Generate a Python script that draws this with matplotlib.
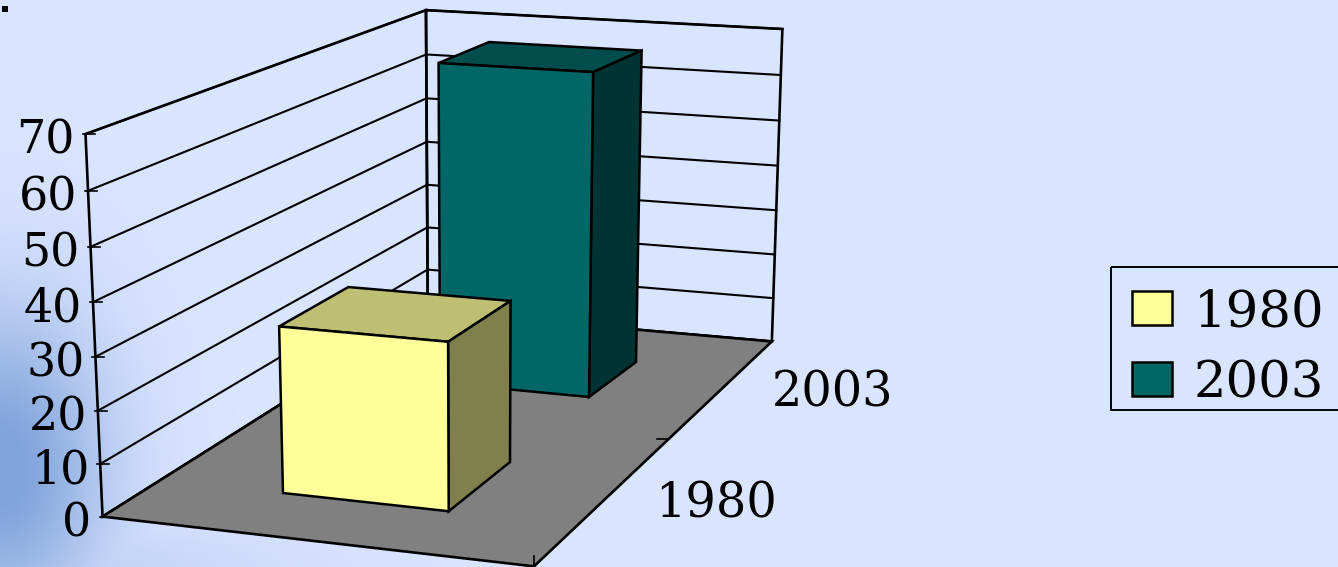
import numpy as np
import matplotlib
matplotlib.use("Agg")
import matplotlib.pyplot as plt
from matplotlib.patches import Polygon, Patch, Rectangle

series_names = ["1980", "2003"]
series_values = [32, 68]
value_ticks = [0, 10, 20, 30, 40, 50, 60, 70]
category_labels = ["1980", "2003"]

W, H = 1338, 567
FONT = "DejaVu Serif"
fig = plt.figure(figsize=(W / 100, H / 100), dpi=100)
ax = fig.add_axes([0, 0, 1, 1])
ax.set_xlim(0, W)
ax.set_ylim(H, 0)
ax.axis("off")

# background
yy, xx = np.mgrid[0:H, 0:W]
base = np.array([217, 228, 255], float)
dark = np.array([128, 163, 219], float)
t = np.exp(-((xx / 105.0) ** 2) - ((yy - 470) / 160.0) ** 2 * (yy < 470) - ((yy - 470) / 150.0) ** 2 * (yy >= 470))
band = 0.3 * np.exp(-((xx / 260.0) ** 2) - ((yy - 567) / 45.0) ** 2)
t = np.clip(np.maximum(t * 1.05, band) - 0.006, 0, 1)[..., None]
bg = (base * (1 - t) + dark * t) / 255
ax.imshow(bg, extent=(0, W, H, 0), aspect="auto", zorder=0)

# projective scale: (x, y, value) -> pixel
anchors = [
    ((0, 0, 0), (103, 517)), ((0, 0, 70), (86, 133)),
    ((0, 1, 0), (428, 312)), ((0, 1, 70), (425, 10)),
    ((1, 1, 0), (772, 340)), ((1, 1, 70), (783, 30)),
    ((1, 0, 0), (533, 567)),
]
A = []
b = []
for (x, y, z), (u, v) in anchors:
    z = z / 70
    A.append([x, y, z, 1, 0, 0, 0, 0, -u * x, -u * y, -u * z])
    b.append(u)
    A.append([0, 0, 0, 0, x, y, z, 1, -v * x, -v * y, -v * z])
    b.append(v)
m = list(np.linalg.lstsq(np.array(A, float), np.array(b, float), rcond=None)[0])
Mat = np.array([m[0:3] + [m[3]], m[4:7] + [m[7]], m[8:11] + [1.0]])


def P(x, y, z):
    h = Mat @ np.array([x, y, z / 70, 1.0])
    return (h[0] / h[2], h[1] / h[2])


def floor_inv(u, v):
    G = Mat[:, [0, 1, 3]]
    h = np.linalg.solve(G, np.array([u, v, 1.0]))
    return h[0] / h[2], h[1] / h[2]


LW = 1.9
GRID = 1.5
# walls
ax.add_patch(Polygon([P(0, 0, 0), P(0, 1, 0), P(0, 1, 70), P(0, 0, 70)], fc="none", ec="k", lw=LW, zorder=1))
ax.add_patch(Polygon([P(0, 1, 0), P(1, 1, 0), P(1, 1, 70), P(0, 1, 70)], fc="none", ec="k", lw=LW, zorder=1))
for v in value_ticks:
    pts = [P(0, 0, v), P(0, 1, v), P(1, 1, v)]
    ax.plot(*zip(*pts), color="k", lw=GRID, zorder=1, solid_joinstyle="miter")
    px, py = P(0, 0, v)
    ax.plot([px - 3, px + 9], [py, py], color="k", lw=1.2, zorder=1)
    ax.text(px - 11, py + 7, str(v), ha="right", va="center", fontsize=33,
            family=FONT, color="k", zorder=5)

# floor
ax.add_patch(Polygon([P(0, 0, 0), P(1, 0, 0), P(1, 1, 0), P(0, 1, 0)], fc="#808080", ec="k", lw=LW, zorder=2))
# category ticks
ex, ey = P(1, 0, 0)
ax.plot([ex, ex], [ey, ey - 10], color="k", lw=1.2, zorder=3)
ex, ey = P(1, 0.5, 0)
ax.plot([ex - 12, ex], [ey, ey], color="k", lw=1.2, zorder=3)

# bar footprints from floor pixels: front-left x, front y, then right edge near and far
faces = [("#FFFF99", "#BFBF73", "#80804D"), ("#006666", "#004D4D", "#003333")]
xa, ya = floor_inv(283, 493)
xb, yb = floor_inv(510, 462)
xc, yc = floor_inv(589, 397)
xd, yd = floor_inv(636, 362)
xe, _ = floor_inv(449, 511)
footprints = [(xa, xe, xb, ya, yb), (xa, xc, xd, yc, yd)]
for i in [1, 0]:
    x0, x1f, x1b, y0, y1 = footprints[i]
    h = series_values[i]
    front, top, side = faces[i]
    z = 3 + (1 - i)
    kw = dict(ec="k", lw=1.8, zorder=z, joinstyle="miter")
    ax.add_patch(Polygon([P(x0, y0, h), P(x0, y1, h), P(x1b, y1, h), P(x1f, y0, h)], fc=top, **kw))
    ax.add_patch(Polygon([P(x1f, y0, 0), P(x1b, y1, 0), P(x1b, y1, h), P(x1f, y0, h)], fc=side, **kw))
    ax.add_patch(Polygon([P(x0, y0, 0), P(x1f, y0, 0), P(x1f, y0, h), P(x0, y0, h)], fc=front, **kw))

# category labels
for lab, (lx, ly) in zip(category_labels, [(716, 504), (833, 393)]):
    ax.text(lx, ly, lab, ha="center", va="center", fontsize=34.5, family=FONT, color="k", zorder=5)

# legend
handles = [Patch(fc=f[0], ec="k", lw=1.8) for f in faces]
leg = ax.legend(handles, series_names, loc="upper left", bbox_to_anchor=(1110, 266),
                bbox_transform=ax.transData, prop={"family": FONT, "size": 37},
                frameon=False, borderaxespad=0,
                handlelength=0.78, handleheight=0.66, handletextpad=0.42, labelspacing=0.42,
                borderpad=0.42)
leg.set_zorder(6)
ax.add_patch(Rectangle((1111, 267), 240, 143, fc="none", ec="k", lw=1.4, zorder=6))

ax.add_patch(Rectangle((2, 6), 6, 6, fc="k", ec="none", zorder=6))
fig.savefig("out.png", dpi=100)
